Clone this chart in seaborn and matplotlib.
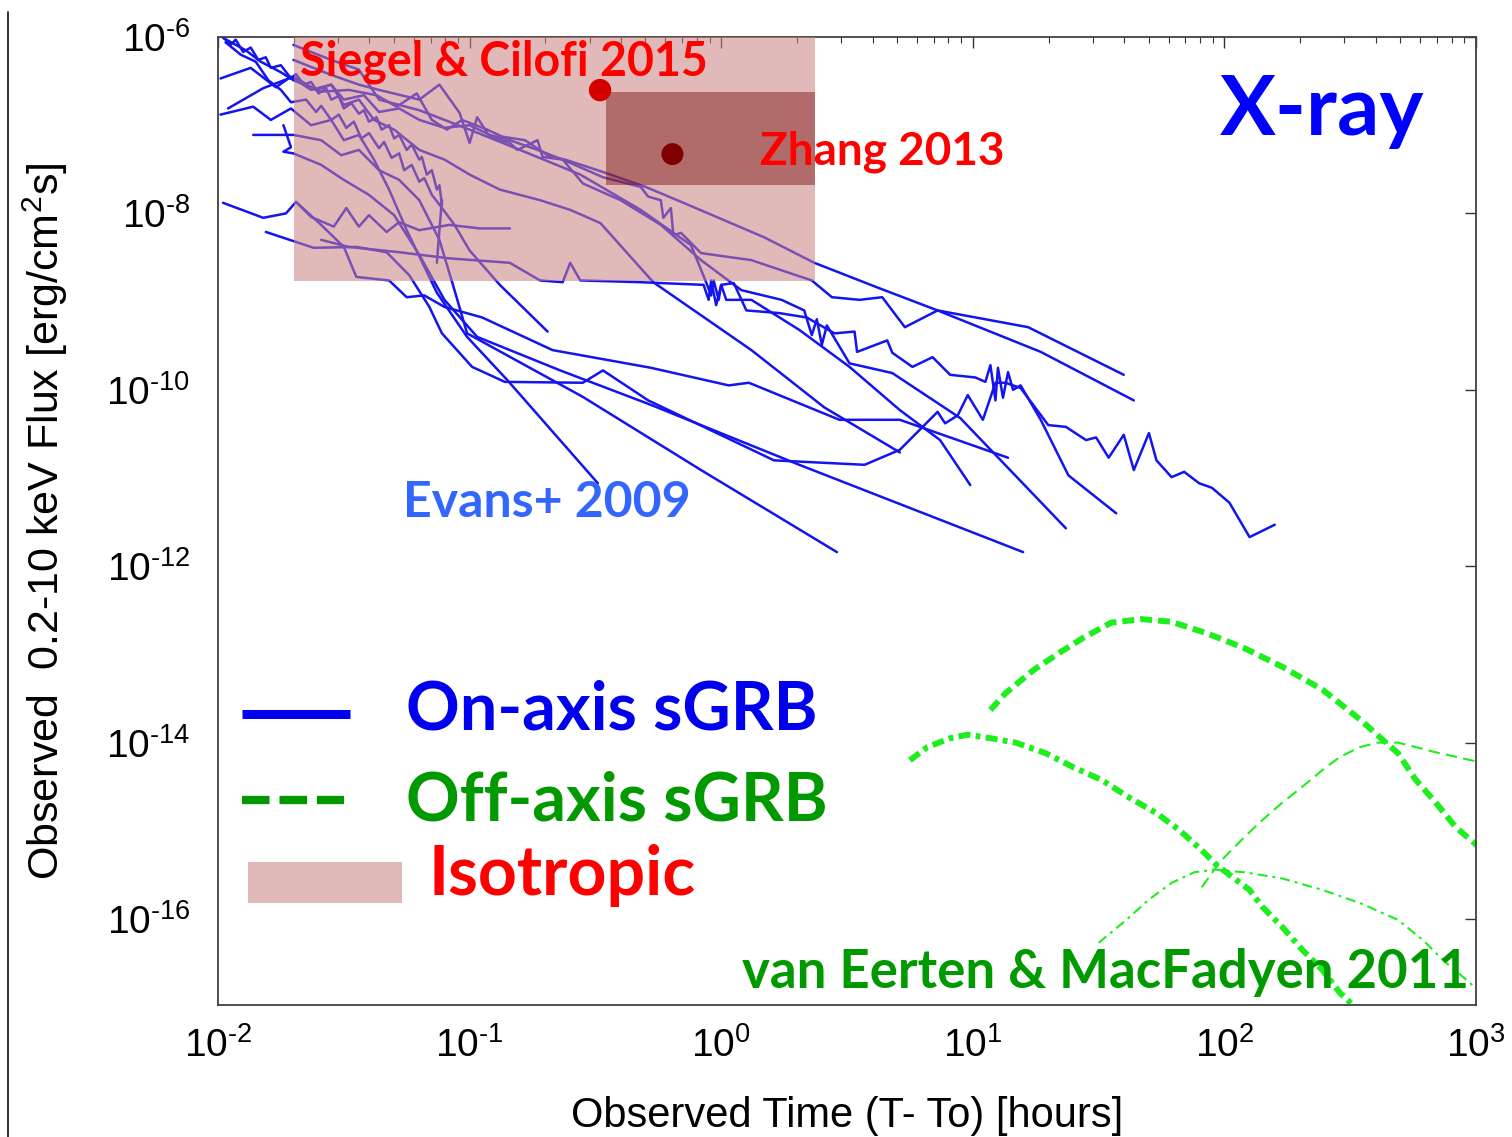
import numpy as np
import pandas as pd
import matplotlib
matplotlib.use("Agg")
import matplotlib.pyplot as plt
import seaborn as sns
from matplotlib.lines import Line2D
from matplotlib.patches import Rectangle
from matplotlib.ticker import FixedLocator, NullLocator, LogLocator, FuncFormatter

# ---------------------------------------------------------------------------
# On-axis short GRB X-ray light curves (Swift/XRT), log10(hours), log10(flux)
# ---------------------------------------------------------------------------
grb01_logt = [-1.98, -1.89, -1.83, -1.75, -1.70, -1.59, -1.48, -1.37, -1.29, -1.21,
              -1.15, -1.09, -1.03, -0.93, -0.87, -0.78, -0.68, -0.62, -0.46, -0.30,
              -0.15, 0.17, 0.37, 0.63, 0.86, 1.27, 1.64]
grb01_logf = [-6.01, -6.15, -6.28, -6.40, -6.49, -6.62, -6.60, -6.66, -6.79, -6.64,
              -6.94, -7.05, -6.94, -7.05, -7.13, -7.17, -7.36, -7.39, -7.54, -7.70,
              -7.88, -8.27, -8.56, -8.85, -9.10, -9.57, -10.12]

grb02_logt = [-1.99, -1.87, -1.77, -1.71, -1.63, -1.55, -1.50, -1.42, -1.36, -1.28,
              -1.20, -1.10, -1.00, -0.92, -0.84, -0.73, -0.63, -0.47, -0.32, -0.29,
              -0.24, -0.23, -0.20, -0.19, -0.16, -0.08, 0.12, 0.36, 0.44, 0.55,
              0.64, 0.73, 0.86, 1.22, 1.60]
grb02_logf = [-6.47, -6.35, -6.57, -6.45, -6.60, -6.54, -6.71, -6.66, -6.85, -6.81,
              -6.94, -7.03, -7.00, -7.11, -7.17, -7.28, -7.39, -7.59, -7.70, -7.81,
              -7.85, -8.05, -7.94, -8.25, -8.22, -8.45, -8.53, -8.76, -8.95, -8.98,
              -8.95, -9.29, -9.10, -9.29, -9.83]

grb03_logt = [-1.98, -1.95, -1.93, -1.90, -1.87, -1.84, -1.81, -1.79, -1.75, -1.71,
              -1.69, -1.66, -1.63, -1.60, -1.57, -1.55, -1.52, -1.50, -1.47, -1.44,
              -1.42, -1.40, -1.37, -1.35, -1.32, -1.30, -1.28, -1.25, -1.23, -1.20,
              -1.19, -1.17, -1.15, -1.13, -1.12, -1.11, -1.11, -1.12, -1.13]
grb03_logf = [-6.00, -6.09, -6.03, -6.17, -6.12, -6.26, -6.23, -6.35, -6.32, -6.47,
              -6.42, -6.54, -6.51, -6.64, -6.58, -6.71, -6.67, -6.81, -6.75, -6.87,
              -6.83, -6.96, -6.91, -7.05, -7.00, -7.15, -7.11, -7.28, -7.22, -7.39,
              -7.36, -7.56, -7.51, -7.73, -7.68, -7.90, -7.85, -8.19, -8.56]

grb04_logt = [-1.97, -1.91, -1.85, -1.80, -1.75, -1.71, -1.65, -1.61, -1.59, -1.55,
              -1.52, -1.49, -1.46, -1.43, -1.40, -1.36, -1.34, -1.31, -1.28, -1.26,
              -1.23, -1.20, -1.18, -1.15, -1.12, -1.06, -1.00, -0.88, -0.69]
grb04_logf = [-6.06, -6.20, -6.28, -6.49, -6.60, -6.74, -6.71, -6.85, -6.78, -6.94,
              -6.88, -7.03, -6.96, -7.15, -7.09, -7.26, -7.19, -7.37, -7.32, -7.51,
              -7.45, -7.64, -7.60, -7.79, -7.90, -8.13, -8.42, -8.81, -9.34]

grb05_logt = [-1.99, -1.86, -1.79, -1.71, -1.63, -1.55, -1.50, -1.44, -1.38, -1.32,
              -1.25, -1.13, -1.01, -0.85, -0.49]
grb05_logf = [-6.88, -6.79, -6.94, -6.81, -7.00, -6.94, -7.17, -7.11, -7.39, -7.73,
              -8.19, -8.90, -9.40, -9.89, -11.06]

grb06_logt = [-1.86, -1.70, -1.59, -1.51, -1.44, -1.36, -1.28, -1.20, -1.12, -1.06,
              -1.01, -0.55, -0.08, 0.46]
grb06_logf = [-7.11, -7.11, -7.17, -7.34, -7.28, -7.51, -7.62, -7.85, -8.30, -8.87,
              -9.36, -10.08, -10.91, -11.84]

grb07_logt = [-1.98, -1.82, -1.73, -1.69, -1.63, -1.54, -1.49, -1.44, -1.40, -1.33,
              -1.28, -1.20, -1.08, -0.96, -0.84]
grb07_logf = [-7.88, -8.05, -8.00, -7.87, -8.04, -8.15, -7.94, -8.15, -8.02, -8.21,
              -8.10, -8.19, -8.13, -8.17, -8.17]

grb08_logt = [-1.81, -1.62, -1.45, -1.33, -1.24, -1.16, -1.11, -0.99, -0.86, -0.55,
              -0.47, -0.29, 0.21, 0.57, 0.71, 0.86, 0.89, 0.94, 0.98, 1.04,
              1.09, 1.13, 1.19, 1.30, 1.37, 1.45, 1.49, 1.54, 1.60, 1.64,
              1.70, 1.73, 1.79, 1.84, 1.90, 1.95, 2.02, 2.10, 2.20]
grb08_logf = [-8.21, -8.39, -8.38, -8.44, -8.70, -9.06, -9.36, -9.74, -9.91, -9.92,
              -9.78, -10.12, -10.80, -10.85, -10.68, -10.25, -10.38, -10.29, -10.06, -10.34,
              -9.92, -9.92, -9.98, -10.40, -10.42, -10.57, -10.54, -10.77, -10.51, -10.91,
              -10.49, -10.80, -10.99, -10.93, -11.06, -11.11, -11.28, -11.67, -11.53]

grb09_logt = [-1.69, -1.59, -1.50, -1.45, -1.32, -1.25, -1.18, -1.10, -0.95, -0.67,
              -0.28, 0.03, 0.11, 0.47, 0.71, 1.14]
grb09_logf = [-7.87, -8.13, -8.38, -8.72, -8.76, -8.95, -8.93, -9.06, -9.18, -9.55,
              -9.75, -9.95, -9.92, -10.34, -10.34, -10.77]

grb10_logt = [-1.74, -1.71, -1.74, -1.70, -1.59, -1.50, -1.40, -1.30, -1.20, -1.10,
              -0.97, -0.64, -0.28, 0.31, 1.20]
grb10_logf = [-7.00, -7.25, -7.30, -7.32, -7.45, -7.62, -7.79, -8.02, -8.47, -8.98,
              -9.40, -9.78, -10.17, -10.85, -11.84]

grb11_logt = [-1.96, -1.82, -1.70, -1.61, -1.55, -1.50, -1.44, -1.38, -1.30, -1.20,
              -1.10, -1.00, -0.88, -0.72, -0.60, -0.48, -0.27, 0.12, 0.41, 0.71]
grb11_logf = [-6.81, -6.58, -6.45, -6.60, -6.54, -6.77, -6.71, -6.94, -7.05, -7.28,
              -7.39, -7.56, -7.73, -7.85, -7.96, -8.11, -8.78, -9.55, -10.20, -10.71]

grb12_logt = [-1.59, -1.48, -1.28, -1.08, -0.84, -0.72, -0.63, -0.60, -0.56, -0.32,
              -0.07, -0.05, -0.04, -0.02, 0.00, 0.02, 0.12, 0.31, 0.51, 0.71,
              0.87, 0.99]
grb12_logf = [-8.30, -8.38, -8.44, -8.51, -8.56, -8.76, -8.78, -8.56, -8.76, -8.78,
              -8.81, -8.98, -8.76, -9.04, -8.81, -8.98, -8.98, -9.32, -9.74, -10.23,
              -10.57, -11.08]

grb13_logt = [-1.70, -1.55, -1.44, -1.36, -1.20, -1.12, -1.04, -1.00, -0.97, -0.92,
              -0.84, -0.81, -0.73, -0.71, -0.63, -0.55, -0.40, -0.24, -0.08, 0.08,
              0.24, 0.33, 0.36, 0.38, 0.40, 0.42, 0.51, 0.68, 0.95, 1.37]
grb13_logf = [-6.26, -6.43, -6.54, -6.60, -6.71, -6.54, -6.86, -7.20, -6.91, -7.13,
              -7.20, -7.28, -7.17, -7.36, -7.39, -7.66, -7.85, -8.13, -8.53, -8.87,
              -8.98, -9.10, -9.38, -9.20, -9.49, -9.27, -9.70, -9.81, -10.32, -11.57]

grb14_logt = [-1.70, -1.55, -1.44, -1.36, -1.20, -1.00, -0.80, -0.56, -0.32, -0.12,
              -0.06, -0.04, -0.03, -0.01, 0.00, 0.05, 0.10, 0.23, 0.34, 0.45,
              0.53, 0.54, 0.66, 0.68, 0.76, 0.84, 0.91, 1.01, 1.05, 1.07,
              1.09, 1.10, 1.12, 1.14, 1.16, 1.19, 1.27, 1.38, 1.57]
grb14_logf = [-6.09, -6.26, -6.37, -6.71, -6.83, -7.05, -7.28, -7.56, -7.96, -8.36,
              -8.78, -8.93, -8.76, -8.98, -8.81, -8.79, -9.10, -9.13, -9.18, -9.36,
              -9.34, -9.57, -9.44, -9.58, -9.74, -9.63, -9.83, -9.86, -9.91, -9.72,
              -10.12, -9.75, -10.09, -9.80, -10.00, -9.95, -10.34, -10.97, -11.40]

# ---------------------------------------------------------------------------
# Off-axis model light curves (van Eerten & MacFadyen 2011)
# ---------------------------------------------------------------------------
offaxis_a_logt = [1.07, 1.13, 1.24, 1.35, 1.44, 1.55, 1.67, 1.79, 1.93, 2.08,
                  2.23, 2.39, 2.54, 2.63, 2.69, 2.76, 2.84, 2.92, 3.01]
offaxis_a_logf = [-13.63, -13.44, -13.18, -12.97, -12.81, -12.64, -12.60, -12.63, -12.76, -12.93,
                  -13.14, -13.40, -13.74, -13.97, -14.12, -14.42, -14.68, -14.96, -15.18]

offaxis_b_logt = [0.75, 0.82, 0.91, 0.98, 1.07, 1.17, 1.29, 1.40, 1.51, 1.62,
                  1.73, 1.82, 1.91, 1.97, 2.03, 2.10, 2.15, 2.23, 2.31, 2.39,
                  2.46, 2.52]
offaxis_b_logf = [-14.20, -14.05, -13.95, -13.91, -13.95, -14.00, -14.12, -14.28, -14.42, -14.62,
                  -14.80, -14.99, -15.22, -15.39, -15.52, -15.67, -15.86, -16.09, -16.35, -16.58,
                  -16.84, -17.00]

offaxis_c_logt = [1.91, 1.96, 2.00, 2.08, 2.15, 2.23, 2.31, 2.39, 2.46, 2.54,
                  2.61, 2.69, 2.76, 2.84, 2.92, 3.01]
offaxis_c_logf = [-15.64, -15.44, -15.30, -15.07, -14.88, -14.68, -14.50, -14.31, -14.16, -14.05,
                  -14.00, -14.00, -14.05, -14.11, -14.16, -14.22]

offaxis_d_logt = [1.50, 1.61, 1.70, 1.79, 1.88, 1.96, 2.08, 2.23, 2.39, 2.54,
                  2.69, 2.79, 2.87, 2.95, 3.01]
offaxis_d_logf = [-16.27, -16.01, -15.78, -15.59, -15.47, -15.44, -15.47, -15.54, -15.67, -15.82,
                  -16.01, -16.24, -16.47, -16.66, -16.81]

# Isotropic emission regions and point estimates
iso_hours = [0.02, 2.36]
iso_flux = [1.7e-9, 1.0e-6]
zhang_box_hours = [0.35, 2.36]
zhang_box_flux = [2.1e-8, 2.4e-7]
siegel_point = (0.33, 2.5e-7)
zhang_point = (0.64, 4.7e-8)

x_limits = (1e-2, 1e3)
y_limits = (1.06e-17, 1e-6)
y_major_ticks = [1e-16, 1e-14, 1e-12, 1e-10, 1e-8, 1e-6]

# ---------------------------------------------------------------------------
BLUE = "#1414F0"
LIME = "#1EEE1E"
DKGREEN = "#009A00"
RED = "#FF0000"
BOLD_FONT = ["Lato", "DejaVu Sans"]

sns.set_theme(style="white")
plt.rcParams["font.family"] = ["Liberation Sans", "DejaVu Sans"]
plt.rcParams["mathtext.fontset"] = "custom"
plt.rcParams["mathtext.rm"] = "Liberation Sans"
plt.rcParams["mathtext.it"] = "Liberation Sans:italic"
plt.rcParams["mathtext.bf"] = "Liberation Sans:bold"
plt.rcParams["text.color"] = "black"
plt.rcParams["axes.labelcolor"] = "black"


def decade_label(value, pos):
    """Power-of-ten label with a short hyphen in negative exponents."""
    e = int(round(np.log10(value)))
    if e < 0:
        return r"$\mathdefault{10^{\text{-}%d}}$" % (-e)
    return r"$\mathdefault{10^{%d}}$" % e


fig = plt.figure(figsize=(15.12, 11.37), dpi=100)
ax = fig.add_axes([218 / 1512, 1 - 1005 / 1137, 1258 / 1512, 968 / 1137])
ax.set_xscale("log")
ax.set_yscale("log")

blue_curves = [
    ("grb01", grb01_logt, grb01_logf), ("grb02", grb02_logt, grb02_logf),
    ("grb03", grb03_logt, grb03_logf), ("grb04", grb04_logt, grb04_logf),
    ("grb05", grb05_logt, grb05_logf), ("grb06", grb06_logt, grb06_logf),
    ("grb07", grb07_logt, grb07_logf), ("grb08", grb08_logt, grb08_logf),
    ("grb09", grb09_logt, grb09_logf), ("grb10", grb10_logt, grb10_logf),
    ("grb11", grb11_logt, grb11_logf), ("grb12", grb12_logt, grb12_logf),
    ("grb13", grb13_logt, grb13_logf), ("grb14", grb14_logt, grb14_logf),
]
frames = []
for name, lt, lf in blue_curves:
    frames.append(pd.DataFrame({"grb": name,
                                "hours": 10.0 ** np.asarray(lt),
                                "flux": 10.0 ** np.asarray(lf)}))
xrt = pd.concat(frames, ignore_index=True)

sns.lineplot(data=xrt, x="hours", y="flux", units="grb", estimator=None,
             sort=False, color=BLUE, lw=1.8, ax=ax, legend=False, zorder=2)

# Off-axis model curves with their individual dash styles
green_curves = [
    (offaxis_a_logt, offaxis_a_logf, 4.3, (0, (2.0, 1.0))),
    (offaxis_b_logt, offaxis_b_logf, 4.3, (0, (2.0, 0.9, 0.8, 0.9))),
    (offaxis_c_logt, offaxis_c_logf, 1.5, (0, (5.5, 3.0))),
    (offaxis_d_logt, offaxis_d_logf, 1.5, (0, (4.8, 2.4, 1.4, 2.4))),
]
for lt, lf, lw, ls in green_curves:
    sns.lineplot(x=10.0 ** np.asarray(lt), y=10.0 ** np.asarray(lf), sort=False,
                 color=LIME, lw=lw, linestyle=ls, ax=ax, zorder=2)

# Isotropic region laid over the light curves
ax.fill_between(iso_hours, iso_flux[0], iso_flux[1],
                color=(203 / 255, 130 / 255, 130 / 255), alpha=0.56, lw=0, zorder=3)
ax.fill_between(zhang_box_hours, zhang_box_flux[0], zhang_box_flux[1],
                color=(112 / 255, 0, 0), alpha=0.42, lw=0, zorder=3.5)

sns.scatterplot(x=[siegel_point[0]], y=[siegel_point[1]], s=260, color="#D40000",
                edgecolor="none", ax=ax, zorder=5)
sns.scatterplot(x=[zhang_point[0]], y=[zhang_point[1]], s=250, color="#800000",
                edgecolor="none", ax=ax, zorder=5)

ax.set_xlim(*x_limits)
ax.set_ylim(*y_limits)

# Axes, ticks and labels
ax.yaxis.set_major_locator(FixedLocator(y_major_ticks))
ax.yaxis.set_minor_locator(NullLocator())
ax.xaxis.set_major_locator(LogLocator(base=10, numticks=10))
ax.xaxis.set_minor_locator(LogLocator(base=10, subs=np.arange(2, 10), numticks=20))
ax.xaxis.set_major_formatter(FuncFormatter(decade_label))
ax.yaxis.set_major_formatter(FuncFormatter(decade_label))
ax.tick_params(which="both", direction="in", top=True, right=True,
               color="#333333", labelcolor="black")
ax.tick_params(which="major", length=8, width=1.0, labelsize=28)
ax.tick_params(which="minor", length=4, width=0.8)
ax.tick_params(axis="y", which="major", pad=20)
ax.tick_params(axis="x", which="major", pad=16)
for sp in ax.spines.values():
    sp.set_color("#404040")
    sp.set_linewidth(1.3)
    sp.set_visible(True)

ax.set_xlabel("Observed Time (T- To) [hours]", fontsize=30, color="black")
ax.set_ylabel("Observed  0.2-10 keV Flux [erg/cm$^2$s]", fontsize=31, color="black")
ax.xaxis.set_label_coords(0.5, -0.094)
ax.yaxis.set_label_coords(-0.118, 0.5)

# Annotations
ax.text(0.0652, 0.9607, "Siegel & Cilofi 2015", transform=ax.transAxes, color=RED,
        fontsize=33.5, fontweight="bold", family=BOLD_FONT, va="baseline", ha="left", zorder=6)
ax.text(0.4308, 0.8678, "Zhang 2013", transform=ax.transAxes, color=RED,
        fontsize=33, fontweight="bold", family=BOLD_FONT, va="baseline", ha="left", zorder=6)
ax.text(0.7965, 0.8988, "X-ray", transform=ax.transAxes, color="#0000FF",
        fontsize=60, fontweight="bold", family=BOLD_FONT, va="baseline", ha="left", zorder=6)
ax.text(0.147, 0.504, "Evans+ 2009", transform=ax.transAxes, color="#3366FF",
        fontsize=36, fontweight="bold", family=BOLD_FONT, va="baseline", ha="left", zorder=6)
ax.text(0.4165, 0.0176, "van Eerten & MacFadyen 2011", transform=ax.transAxes, color=DKGREEN,
        fontsize=38, fontweight="bold", family=BOLD_FONT, va="baseline", ha="left", zorder=6)

# Hand-made legend
ax.plot([0.0191, 0.1049], [0.3006, 0.3006], transform=ax.transAxes, color="#0000EE",
        lw=6.5, solid_capstyle="butt", zorder=6)
ax.text(0.1494, 0.2841, "On-axis sGRB", transform=ax.transAxes, color="#0000EE",
        fontsize=48, fontweight="bold", family=BOLD_FONT, va="baseline", ha="left", zorder=6)
ax.plot([0.0191, 0.1002], [0.2118, 0.2118], transform=ax.transAxes, color=DKGREEN,
        lw=6.0, linestyle=(0, (3.3, 1.2)), dash_capstyle="butt", zorder=6)
ax.text(0.1494, 0.1911, "Off-axis sGRB", transform=ax.transAxes, color=DKGREEN,
        fontsize=48, fontweight="bold", family=BOLD_FONT, va="baseline", ha="left", zorder=6)
ax.add_patch(Rectangle((0.0238, 0.1054), 0.1225, 0.0423, transform=ax.transAxes,
                       facecolor="#E2B9B9", edgecolor="none", zorder=6))
ax.text(0.1677, 0.1136, "Isotropic", transform=ax.transAxes, color=RED,
        fontsize=49, fontweight="bold", family=BOLD_FONT, va="baseline", ha="left", zorder=6)

# Thin frame line along the left edge of the figure
fig.add_artist(Line2D([8 / 1512, 8 / 1512], [0.0, 1 - 12 / 1137],
                      transform=fig.transFigure, color="#222222", lw=1.3))

fig.savefig("out.png", dpi=100, facecolor="white")
